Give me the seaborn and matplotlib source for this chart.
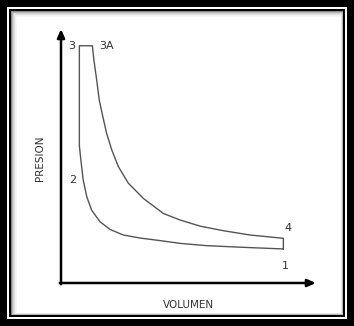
import matplotlib
matplotlib.use("Agg")
import matplotlib.pyplot as plt
import seaborn as sns
import pandas as pd
from matplotlib.patches import Rectangle

sns.set_style("white")
plt.rcParams['font.family'] = ['DejaVu Sans']

# Diesel cycle: 1 -> 2 (compression), 2 -> 3, 3 -> 3A, 3A -> 4 (expansion), 4 -> 1
compression_v = [8.72, 7.02, 5.71, 4.67, 3.88, 3.10, 2.44, 1.92, 1.53, 1.20, 1.01,
                 0.87, 0.78, 0.73, 0.72]
compression_p = [1.34, 1.41, 1.47, 1.56, 1.67, 1.77, 1.89, 2.11, 2.41, 2.87, 3.40,
                 4.06, 4.84, 5.31, 5.39]
expansion_v = [1.23, 1.29, 1.40, 1.50, 1.64, 1.79, 1.99, 2.25, 2.64, 3.23,
               4.01, 4.67, 5.45, 6.36, 7.41, 8.72]
expansion_p = [9.34, 8.78, 7.99, 7.20, 6.55, 5.89, 5.24, 4.58, 3.93, 3.33,
               2.74, 2.48, 2.24, 2.06, 1.89, 1.76]
point3_v, point3_p = 0.72, 9.34
state_labels = ["1", "2", "3", "3A", "4"]

vol = compression_v + [point3_v] + expansion_v + [compression_v[0]]
pres = compression_p + [point3_p] + expansion_p + [compression_p[0]]
df = pd.DataFrame({"V": vol, "P": pres})

W, H = 354, 326
fig = plt.figure(figsize=(W / 100, H / 100), dpi=100)
fig.patch.set_facecolor("black")

def px_rect(x0, y0, x1, y1, color):
    fig.add_artist(Rectangle((x0 / W, 1 - y1 / H), (x1 - x0) / W, (y1 - y0) / H,
                             transform=fig.transFigure, facecolor=color,
                             edgecolor="none", zorder=-10))

px_rect(7, 7, 347, 319, "white")
px_rect(9, 9, 345, 317, "black")
shades = ["#8a8a8a", "#b5b5b5", "#d2d2d2", "#e4e4e4", "#efefef", "#f7f7f7", "white"]
for i, c in enumerate(shades):
    px_rect(11 + i, 11 + i, 343 - i * 0.4, 315 - i * 0.4, c)

ax = fig.add_axes([0, 0, 1, 1])
ax.set_facecolor("none")
ax.set_xlim(-61 / 25.5, (W - 61) / 25.5)
ax.set_ylim((283 - H) / 25.4, 283 / 25.4)
ax.axis("off")

sns.lineplot(data=df, x="V", y="P", sort=False, estimator=None, ax=ax,
             color="#555555", linewidth=1.0)

# axes arrows
ax.annotate("", xy=(0, 10), xytext=(0, -0.05),
            arrowprops=dict(arrowstyle="-|>,head_length=0.5,head_width=0.22",
                            color="black", lw=1.8, shrinkA=0, shrinkB=0))
ax.annotate("", xy=(10, 0), xytext=(-0.05, 0),
            arrowprops=dict(arrowstyle="-|>,head_length=0.5,head_width=0.22",
                            color="black", lw=1.8, shrinkA=0, shrinkB=0))

tc = "#333333"
fs = 8
ax.text(compression_v[0] + 0.06, compression_p[0] - 0.67, state_labels[0], color=tc,
        fontsize=fs, ha="center", va="center")
ax.text(compression_v[-1] - 0.25, compression_p[-1] - 1.33, state_labels[1], color=tc,
        fontsize=fs, ha="center", va="center")
ax.text(point3_v - 0.3, point3_p, state_labels[2], color=tc,
        fontsize=fs, ha="center", va="center")
ax.text(expansion_v[0] + 0.57, expansion_p[0], state_labels[3], color=tc,
        fontsize=fs, ha="center", va="center")
ax.text(expansion_v[-1] + 0.18, expansion_p[-1] + 0.41, state_labels[4], color=tc,
        fontsize=fs, ha="center", va="center")

ax.text(-0.82, 4.9, "PRESION", color=tc, fontsize=7.5, rotation=90,
        ha="center", va="center")
ax.text(5.0, -0.87, "VOLUMEN", color=tc, fontsize=7.5, ha="center", va="center")

fig.savefig("out.png", dpi=100, facecolor=fig.get_facecolor())
